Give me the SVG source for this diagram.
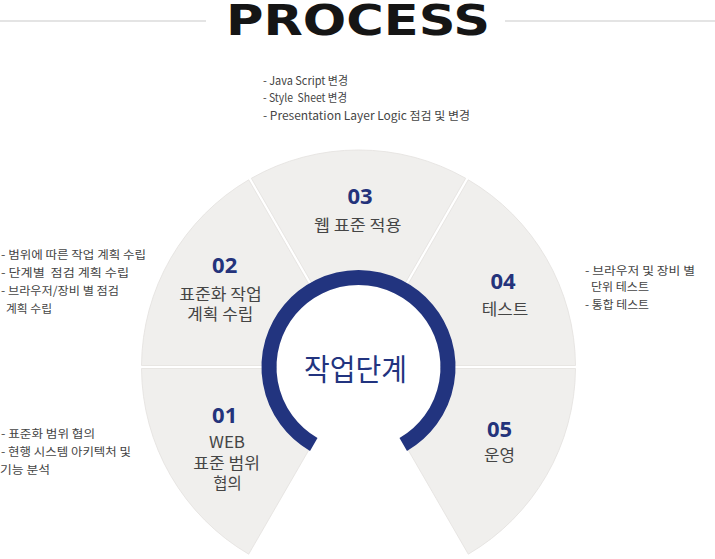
<svg xmlns="http://www.w3.org/2000/svg" width="715" height="559" viewBox="0 0 715 559">
<style>
.sec{fill:#f0efed;stroke:#e3e1de;stroke-width:0.8}
.num{font-family:"Open Sans","Liberation Sans",sans-serif;font-weight:700;font-size:22px;fill:#24337b;text-anchor:middle}
.lab{font-family:"Noto Sans CJK KR","Noto Sans",sans-serif;font-size:16px;fill:#454545}
.desc{font-family:"Noto Sans CJK KR","Noto Sans",sans-serif;font-size:11.5px;fill:#444}
.ctr{font-family:"Noto Sans CJK KR","Noto Sans",sans-serif;font-size:30px;fill:#22347f}
.rule{stroke:#c9c9c9;stroke-width:1.2}
</style>
<rect width="715" height="559" fill="#fff"/>
<g id="title">
<line class="rule" x1="0" y1="21" x2="206" y2="21"/>
<line class="rule" x1="505" y1="21" x2="715" y2="21"/>
<text x="226" y="35" font-family="DejaVu Sans" font-weight="700" font-size="42" fill="#151515" textLength="264" lengthAdjust="spacingAndGlyphs">PROCESS</text>
</g>
<g id="step03">
<path class="sec" d="M358.5 364 L465.7 178.3 A217 217 0 0 0 251.3 178.3 Z"/>
<text class="num" x="360" y="204">03</text>
<text class="lab" x="314" y="231" textLength="87.5" lengthAdjust="spacingAndGlyphs">웹 표준 적용</text>
<text class="desc" x="263" y="84.5" textLength="85" lengthAdjust="spacingAndGlyphs">- Java Script 변경</text>
<text class="desc" x="263" y="102" textLength="84" lengthAdjust="spacingAndGlyphs" xml:space="preserve">- Style  Sheet 변경</text>
<text class="desc" x="263" y="119.5" textLength="207" lengthAdjust="spacingAndGlyphs">- Presentation Layer Logic 점검 및 변경</text>
</g>
<g id="step02">
<path class="sec" d="M355.9 365.5 L248.7 179.8 A217 217 0 0 0 141.5 365.5 Z"/>
<text class="num" x="224.7" y="273">02</text>
<text class="lab" x="179.3" y="300" textLength="82.4" lengthAdjust="spacingAndGlyphs">표준화 작업</text>
<text class="lab" x="187.3" y="319.5" textLength="66" lengthAdjust="spacingAndGlyphs">계획 수립</text>
<text class="desc" x="1" y="259" textLength="145" lengthAdjust="spacingAndGlyphs">- 범위에 따른 작업 계획 수립</text>
<text class="desc" x="1" y="277" textLength="128" lengthAdjust="spacingAndGlyphs" xml:space="preserve">- 단계별  점검 계획 수립</text>
<text class="desc" x="1" y="295" textLength="118" lengthAdjust="spacingAndGlyphs">- 브라우저/장비 별 점검</text>
<text class="desc" x="6" y="313" textLength="46" lengthAdjust="spacingAndGlyphs">계획 수립</text>
</g>
<g id="step04">
<path class="sec" d="M361.1 365.5 L575.5 365.5 A217 217 0 0 0 468.3 179.8 Z"/>
<text class="num" x="503" y="289">04</text>
<text class="lab" x="481.7" y="315" textLength="46.6" lengthAdjust="spacingAndGlyphs">테스트</text>
<text class="desc" x="585" y="274.5" textLength="110" lengthAdjust="spacingAndGlyphs">- 브라우저 및 장비 별</text>
<text class="desc" x="591" y="291" textLength="58" lengthAdjust="spacingAndGlyphs">단위 테스트</text>
<text class="desc" x="585" y="308.5" textLength="64" lengthAdjust="spacingAndGlyphs">- 통합 테스트</text>
</g>
<g id="step01">
<path class="sec" d="M355.9 368.5 L141.5 368.5 A217 217 0 0 0 248.7 554.2 Z"/>
<text class="num" x="224.7" y="423">01</text>
<text class="lab" x="209" y="448" textLength="36" lengthAdjust="spacingAndGlyphs">WEB</text>
<text class="lab" x="193.3" y="469" textLength="66.7" lengthAdjust="spacingAndGlyphs">표준 범위</text>
<text class="lab" x="213.3" y="489" textLength="28.4" lengthAdjust="spacingAndGlyphs">협의</text>
<text class="desc" x="1" y="437.5" textLength="94" lengthAdjust="spacingAndGlyphs">- 표준화 범위 협의</text>
<text class="desc" x="1" y="455.5" textLength="130" lengthAdjust="spacingAndGlyphs">- 현행 시스템 아키텍처 및</text>
<text class="desc" x="0" y="473.5" textLength="50" lengthAdjust="spacingAndGlyphs">기능 분석</text>
</g>
<g id="step05">
<path class="sec" d="M361.1 368.5 L468.3 554.2 A217 217 0 0 0 575.5 368.5 Z"/>
<text class="num" x="499.5" y="436.5">05</text>
<text class="lab" x="484" y="461" textLength="31" lengthAdjust="spacingAndGlyphs">운영</text>
</g>
<g id="center">
<circle cx="358.5" cy="367" r="82" fill="#fff"/>
<path d="M313.75 444.51 A89.5 89.5 0 1 1 403.25 444.51" fill="none" stroke="#22347f" stroke-width="15"/>
<text class="ctr" x="304" y="380" textLength="103" lengthAdjust="spacingAndGlyphs">작업단계</text>
</g>
</svg>
